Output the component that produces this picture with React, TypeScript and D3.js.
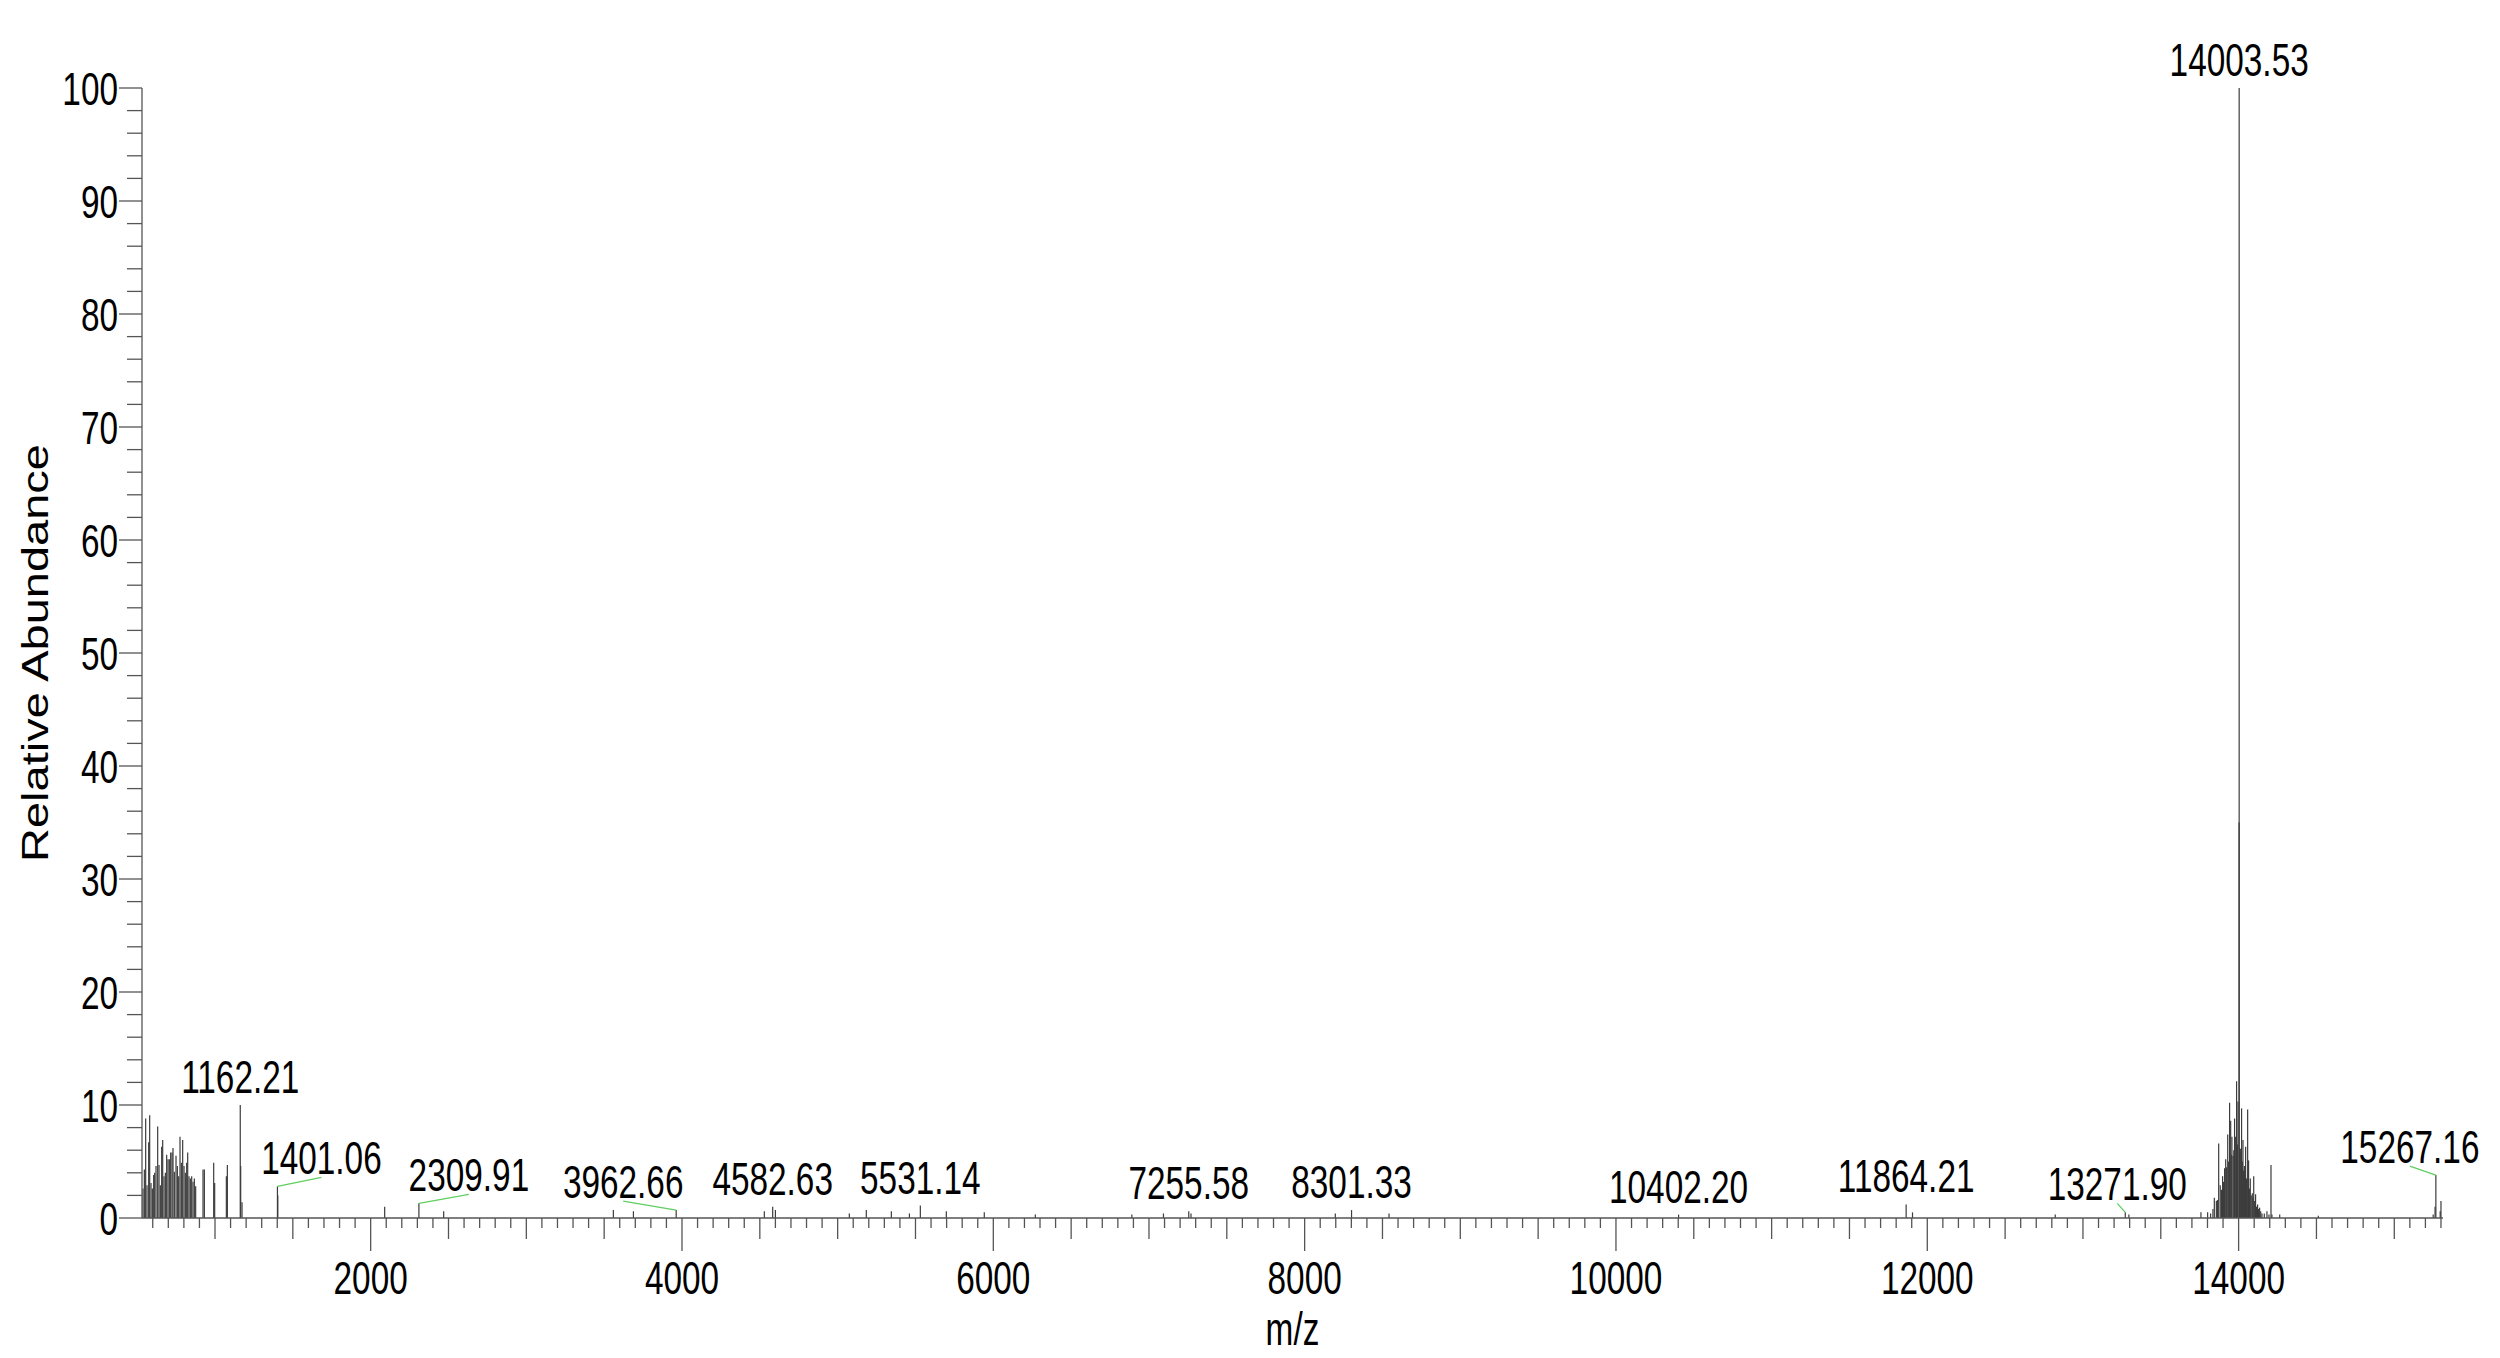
import React from "react";
import * as d3 from "d3";

// ---- data (m/z, relative abundance) ----
const lowMz = [537.5, 546.1, 554.6, 563.2, 573.9, 580.3, 588.9, 597.5, 606.0, 612.5, 621.0, 631.7, 640.3, 648.9, 657.4, 663.9, 672.4, 681.0, 689.5, 698.1, 706.7, 715.2, 723.8, 730.2, 738.8, 749.5, 758.1, 766.6, 775.2, 783.8, 792.3, 800.9, 809.5, 818.0, 824.5, 833.0, 841.6, 850.2, 858.7, 867.3, 875.8, 923.0, 931.6, 991.5, 997.9, 1072.9, 1079.3, 1162.21, 1165.0, 1173.6];
const lowInt = [2.6, 4.3, 8.8, 2.9, 6.7, 9.1, 3.1, 2.6, 3.8, 4.0, 4.6, 8.1, 4.7, 2.9, 6.3, 6.9, 3.7, 4.0, 5.6, 5.2, 5.2, 5.8, 5.8, 6.2, 4.1, 5.5, 4.6, 3.7, 7.2, 4.9, 6.9, 4.6, 4.0, 4.9, 5.8, 3.7, 3.5, 3.7, 3.2, 3.5, 2.8, 4.3, 4.3, 4.9, 3.1, 3.7, 4.7, 10.0, 4.6, 1.4];

const midMz = [1401.06, 1403.5, 2090.0, 2309.91, 2469.0, 3559.0, 3688.0, 3962.66, 4529.0, 4582.63, 4600.0, 5075.0, 5184.0, 5345.0, 5461.0, 5531.14, 5698.0, 5942.0, 6270.0, 6890.0, 7093.0, 7255.58, 7270.0, 8197.0, 8301.33, 8542.0, 10402.2, 11864.21, 11905.0, 12822.0, 13271.9, 13295.0];
const midInt = [2.8, 2.0, 1.0, 1.3, 0.6, 0.7, 0.6, 0.7, 0.6, 1.0, 0.7, 0.4, 0.7, 0.6, 0.4, 1.1, 0.6, 0.5, 0.3, 0.3, 0.4, 0.6, 0.4, 0.4, 0.7, 0.4, 0.3, 1.2, 0.5, 0.3, 0.5, 0.3];

const clusterMz = [13758, 13801, 13820, 13835, 13844, 13857, 13864, 13872, 13882, 13890, 13897, 13903, 13910, 13917, 13923, 13930, 13936, 13942, 13949, 13953, 13957, 13964, 13969, 13974, 13981, 13987, 13992, 13996, 14003.0, 14003.53, 14007, 14011, 14015, 14019, 14024, 14028, 14032, 14037, 14041, 14045, 14051, 14058, 14064, 14070, 14075, 14081, 14088, 14092, 14097, 14103, 14109, 14115, 14122, 14128, 14135, 14142, 14150, 14165, 14182, 14195, 14208, 14214, 14264, 14512];
const clusterInt = [0.5, 0.5, 0.4, 0.8, 1.8, 1.5, 1.6, 6.6, 2.9, 2.5, 3.7, 3.2, 4.4, 5.2, 4.5, 7.4, 5.0, 10.2, 8.6, 5.6, 7.2, 5.5, 6.0, 8.8, 7.2, 12.1, 6.5, 10.3, 35.0, 100.0, 6.2, 6.1, 5.8, 9.7, 5.0, 6.9, 4.2, 4.6, 3.8, 6.3, 3.5, 9.6, 5.1, 2.6, 3.5, 2.0, 2.2, 1.8, 3.7, 1.5, 2.1, 1.0, 1.2, 0.8, 0.9, 0.6, 0.4, 0.4, 0.6, 0.3, 4.7, 0.3, 0.3, 0.2];

const highMz = [15250, 15262, 15267.16, 15295, 15300];
const highInt = [0.3, 1.0, 3.8, 0.6, 1.5];

// labelled peaks
const labelMz = [1162.21, 1401.06, 2309.91, 3962.66, 4582.63, 5531.14, 7255.58, 8301.33, 10402.2, 11864.21, 13271.9, 14003.53, 15267.16];
const labelInt = [10.0, 2.8, 1.3, 0.7, 1.0, 1.1, 0.6, 0.7, 0.3, 1.2, 0.5, 100.0, 3.8];

const xTickLabels = [2000, 4000, 6000, 8000, 10000, 12000, 14000];
const yTickLabels = [0, 10, 20, 30, 40, 50, 60, 70, 80, 90, 100];

// ---- layout ----
const W = 2500;
const H = 1358;
const SX = 0.71; // horizontal squeeze of text
const FONT = "'Liberation Sans', Arial, Helvetica, sans-serif";
const FS = 47;
const labelDx = [0, 44, 50, -53, 0, 0, 0, 0, 0, 0, -8, 0, -26];

const x = d3.scaleLinear().domain([531, 15313]).range([142, 2443]);
const y = d3.scaleLinear().domain([0, 100]).range([1218, 88]);

function SText({ tx, ty, anchor, children }: { tx: number; ty: number; anchor: string; children: React.ReactNode }) {
  return (
    <text
      transform={`translate(${tx},${ty}) scale(${SX},1)`}
      textAnchor={anchor}
      fontFamily={FONT}
      fontSize={FS}
      fill="#000"
    >
      {children}
    </text>
  );
}

export default function App() {
  const allMz = [...lowMz, ...midMz, ...clusterMz, ...highMz];
  const allInt = [...lowInt, ...midInt, ...clusterInt, ...highInt];
  const peaks = allMz.map((m, i) => ({ m, v: allInt[i] }));
  peaks.sort((a, b) => b.v - a.v);

  const xTicks = d3.range(600, 15301, 100);
  const yTicks = d3.range(0, 101, 2);

  return (
    <svg
      width={W}
      height={H}
      style={{ position: "absolute", left: 0, top: 0, background: "#fff" }}
    >
      <rect x={0} y={0} width={W} height={H} fill="#fff" />
      {/* peaks */}
      <g stroke="#3c3c3c" strokeWidth={1.2}>
        {peaks.map((p, i) => (
          <line key={i} x1={x(p.m)} x2={x(p.m)} y1={y(0)} y2={y(p.v)} />
        ))}
      </g>

      {/* y axis */}
      <g stroke="#555" strokeWidth={1.3}>
        <line x1={x.range()[0]} x2={x.range()[0]} y1={y(0)} y2={y(100)} />
        {yTicks.map((t) => (
          <line
            key={t}
            x1={x.range()[0] - (t % 10 === 0 ? 23 : 15)}
            x2={x.range()[0]}
            y1={y(t)}
            y2={y(t)}
          />
        ))}
      </g>
      {yTickLabels.map((t) => (
        <SText key={t} tx={x.range()[0] - 24} ty={y(t) + 17} anchor="end">
          {t}
        </SText>
      ))}

      {/* x axis */}
      <g stroke="#555" strokeWidth={1.3}>
        <line x1={x.range()[0]} x2={x.range()[1]} y1={y(0)} y2={y(0)} />
        {xTicks.map((t) => (
          <line
            key={t}
            x1={x(t)}
            x2={x(t)}
            y1={y(0)}
            y2={y(0) + (t % 2000 === 0 ? 33 : t % 500 === 0 ? 21 : 10)}
          />
        ))}
      </g>
      {xTickLabels.map((t) => (
        <SText key={t} tx={x(t)} ty={y(0) + 76} anchor="middle">
          {t}
        </SText>
      ))}

      {/* peak labels */}
      {labelMz.map((m, i) => {
        const px = x(m);
        const py = y(labelInt[i]);
        const lx = px + labelDx[i];
        const ly = py - 12;
        return (
          <g key={m}>
            {labelDx[i] !== 0 && (
              <line x1={px} y1={py} x2={lx} y2={ly + 3} stroke="#5fcf5f" strokeWidth={1.3} />
            )}
            <SText tx={lx} ty={ly} anchor="middle">
              {m.toFixed(2)}
            </SText>
          </g>
        );
      })}

      {/* axis titles */}
      <SText tx={(x.range()[0] + x.range()[1]) / 2} ty={1345} anchor="middle">
        m/z
      </SText>
      <text
        transform={`translate(48,${(y(0) + y(100)) / 2}) scale(0.78,1) rotate(-90)`}
        textAnchor="middle"
        fontFamily={FONT}
        fontSize={FS}
        fill="#000"
      >
        Relative Abundance
      </text>
    </svg>
  );
}
